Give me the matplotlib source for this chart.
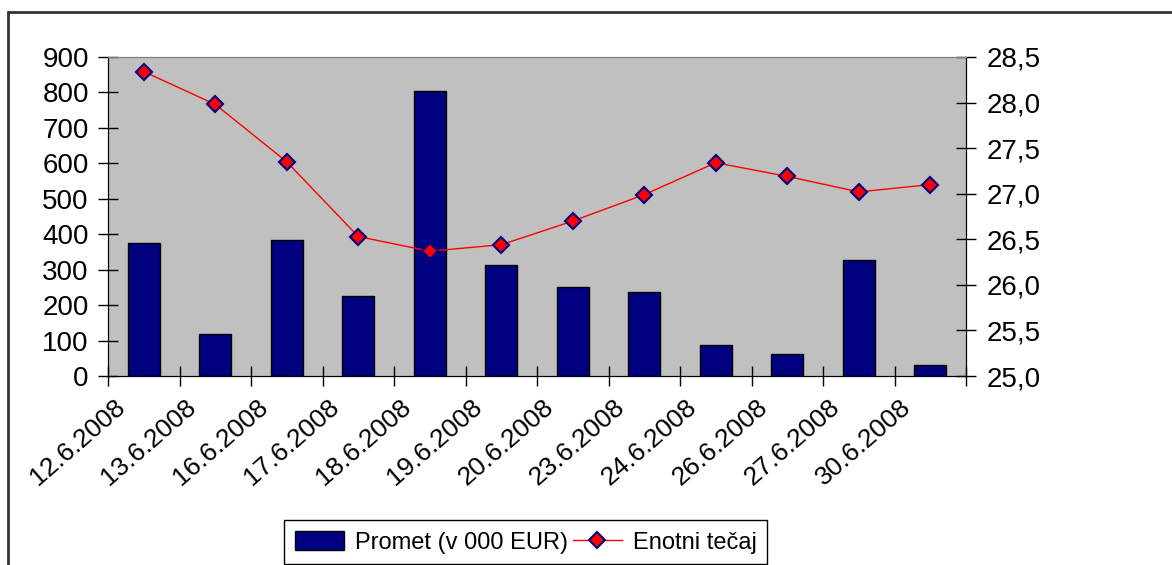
import matplotlib
matplotlib.use("Agg")
import matplotlib.pyplot as plt
import matplotlib.transforms as mtransforms
from matplotlib.patches import Patch, Rectangle
from matplotlib.lines import Line2D
import numpy as np

dates = ["12.6.2008", "13.6.2008", "16.6.2008", "17.6.2008", "18.6.2008", "19.6.2008",
         "20.6.2008", "23.6.2008", "24.6.2008", "26.6.2008", "27.6.2008", "30.6.2008"]
promet = [375, 118, 384, 226, 804, 313, 251, 237, 87, 62, 327, 31]
tecaj = [28.34, 27.98, 27.35, 26.53, 26.37, 26.44, 26.70, 26.99, 27.34, 27.19, 27.02, 27.10]
left_ticks = [0, 100, 200, 300, 400, 500, 600, 700, 800, 900]
right_ticks = [25.0, 25.5, 26.0, 26.5, 27.0, 27.5, 28.0, 28.5]

plt.rcParams['font.family'] = ['Liberation Sans', 'DejaVu Sans']
FS = 20
DFS = 19
LFS = 17

W, H = 1172, 565
fig = plt.figure(figsize=(W / 100, H / 100), dpi=100)
fig.patch.set_facecolor('white')

L, R, T, B = 108, 966, 57, 376
ax = fig.add_axes([L / W, 1 - B / H, (R - L) / W, (B - T) / H])
ax.set_facecolor('#C0C0C0')

x = np.arange(len(dates))
ax.bar(x, promet, width=0.45, color='#000080', edgecolor='black', linewidth=1, zorder=2)
ax.set_xlim(-0.5, len(dates) - 0.5)
ax.set_ylim(0, 900)
ax.set_yticks(left_ticks)
ax.set_yticklabels([str(v) for v in left_ticks], fontsize=FS)
ax.set_xticks(np.arange(len(dates) + 1) - 0.5)
ax.set_xticklabels([])
ax.tick_params(axis='both', direction='inout', length=13.7, width=1, color='black', pad=7)

ax.spines['top'].set_color('#808080')
ax.spines['left'].set_color('black')
ax.spines['bottom'].set_color('black')

ax2 = ax.twinx()
ax2.plot(x, tecaj, color='#FF0000', lw=1, marker='D', markersize=8,
         markerfacecolor='#FF0000', markeredgecolor='#000080', markeredgewidth=1.5, zorder=3)
ax2.set_ylim(25.0, 28.5)
ax2.set_yticks(right_ticks)
ax2.set_yticklabels([f"{v:.1f}".replace('.', ',') for v in right_ticks], fontsize=FS)
ax2.tick_params(axis='y', direction='inout', length=13.7, width=1, color='black', pad=8)
ax2.spines['right'].set_color('black')
ax2.spines['top'].set_color('#808080')

# rotated category labels (baseline end anchored right of each tick)
trans = mtransforms.blended_transform_factory(ax.transData, ax.transAxes) + \
    mtransforms.ScaledTranslation(18 / 100, -33 / 100, fig.dpi_scale_trans)
for i, d in enumerate(dates):
    ax.text(i - 0.5, 0, d, transform=trans, rotation=41, rotation_mode='anchor',
            ha='right', va='baseline', fontsize=DFS)

# outer frame
fig.add_artist(Rectangle((8 / W, -0.2), 1.2, 1 - 12 / H + 0.2, transform=fig.transFigure,
                         fill=False, edgecolor='#333333', linewidth=2))

handles = [Patch(facecolor='#000080', edgecolor='black', linewidth=1),
           Line2D([0], [0], color='#FF0000', lw=1, marker='D', markersize=8,
                  markerfacecolor='#FF0000', markeredgecolor='#000080', markeredgewidth=1.5)]
leg = fig.legend(handles, ["Promet (v 000 EUR)", "Enotni tečaj"], loc='upper left',
                 bbox_to_anchor=(284 / W, 1 - 520 / H), ncol=2, fontsize=LFS,
                 frameon=True, fancybox=False, edgecolor='black', framealpha=1,
                 handlelength=2.1, handleheight=0.9, handletextpad=0.45, columnspacing=0.2,
                 borderpad=0.45, borderaxespad=0)
leg.get_frame().set_linewidth(1)

fig.savefig('out.png', dpi=100)
